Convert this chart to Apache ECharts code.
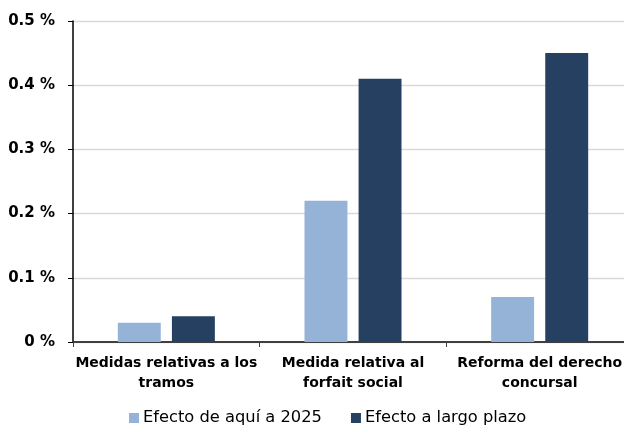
<!DOCTYPE html>
<html>
<head>
<meta charset="utf-8">
<script src="https://cdn.jsdelivr.net/npm/echarts@6/dist/echarts.min.js"></script>
<style>
  html, body { margin: 0; padding: 0; background: #fff; }
  #chart { width: 624px; height: 425px; }
</style>
</head>
<body>
<div id="chart"></div>
<script>
// Measures and their estimated impact (percentage points)
const categories = [
  'Medidas relativas a los\ntramos',
  'Medida relativa al\nforfait social',
  'Reforma del derecho\nconcursal'
];
const seriesNames = ['Efecto de aquí a 2025', 'Efecto a largo plazo'];
const shortTerm = [0.03, 0.22, 0.07];
const longTerm = [0.04, 0.41, 0.45];
const yTicks = ['0 %', '0.1 %', '0.2 %', '0.3 %', '0.4 %', '0.5 %'];

const font = 'DejaVu Sans, Verdana, sans-serif';
const chart = echarts.init(document.getElementById('chart'));

chart.setOption({
  animation: false,
  backgroundColor: '#ffffff',
  // plot area runs slightly past the right edge of the canvas
  grid: { left: 73, top: 21, bottom: 83, width: 560, containLabel: false, outerBoundsMode: 'none' },
  legend: {
    top: 410,
    left: 129,
    padding: 0,
    itemWidth: 10,
    itemHeight: 10,
    itemGap: 29,
    icon: 'rect',
    textStyle: { fontFamily: font, fontSize: 16.3, color: '#000', padding: [0, 0, 0, -1] },
    data: seriesNames
  },
  xAxis: {
    type: 'category',
    data: categories,
    axisLine: { lineStyle: { color: '#404040', width: 2 } },
    axisTick: { show: true, length: 5, lineStyle: { color: '#404040', width: 1 } },
    axisLabel: {
      interval: 0,
      margin: 11,
      fontFamily: font,
      fontWeight: 'bold',
      fontSize: 14,
      lineHeight: 20,
      color: '#000'
    }
  },
  yAxis: {
    type: 'value',
    min: 0,
    max: 0.5,
    interval: 0.1,
    axisLine: { show: true, lineStyle: { color: '#000', width: 1.5 } },
    axisTick: { show: true, length: 5, lineStyle: { color: '#000', width: 1 } },
    splitLine: { lineStyle: { color: '#d9d9d9', width: 1.3 } },
    axisLabel: {
      margin: 18,
      fontFamily: font,
      fontWeight: 'bold',
      fontSize: 15,
      color: '#000',
      formatter: (v) => yTicks[Math.round(v * 10)]
    }
  },
  series: [
    {
      name: seriesNames[0],
      type: 'bar',
      data: shortTerm,
      barWidth: '23%',
      barGap: '26%',
      itemStyle: { color: '#95b3d7' }
    },
    {
      name: seriesNames[1],
      type: 'bar',
      data: longTerm,
      barWidth: '23%',
      itemStyle: { color: '#254061' }
    }
  ]
});
</script>
</body>
</html>
